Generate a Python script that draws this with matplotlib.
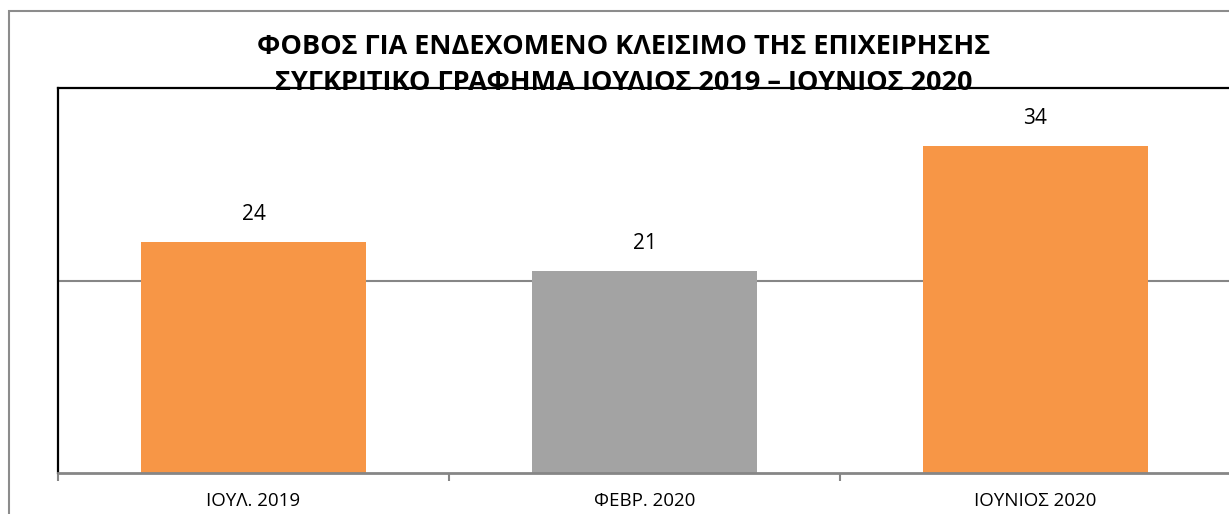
import matplotlib.pyplot as plt
from matplotlib.patches import Rectangle

plt.rcParams['font.family'] = ['Open Sans', 'DejaVu Sans']

categories = ['ΙΟΥΛ. 2019', 'ΦΕΒΡ. 2020', 'ΙΟΥΝΙΟΣ 2020']
values = [24, 21, 34]
colors = ['#F79646', '#A3A3A3', '#F79646']
title_lines = ['ΦΟΒΟΣ ΓΙΑ ΕΝΔΕΧΟΜΕΝΟ ΚΛΕΙΣΙΜΟ ΤΗΣ ΕΠΙΧΕΙΡΗΣΗΣ',
               'ΣΥΓΚΡΙΤΙΚΟ ΓΡΑΦΗΜΑ ΙΟΥΛΙΟΣ 2019 – ΙΟΥΝΙΟΣ 2020']

W, H = 1229, 514
fig = plt.figure(figsize=(W / 100, H / 100), dpi=100)

# outer chart border (runs off the right and bottom edges)
fig.patches.append(Rectangle((9 / W, -0.1), 1.2, 1 - 11 / H + 0.1,
                             transform=fig.transFigure, fill=False,
                             edgecolor='#8c8c8c', linewidth=1.5))

# title goes under the plot frame, like in the original
fig.text(624 / W, 1 - 47 / H, title_lines[0], ha='center', va='center',
         fontsize=19.5, fontweight='bold', zorder=-1)
fig.text(624 / W, 1 - 83 / H, title_lines[1], ha='center', va='center',
         fontsize=19.5, fontweight='bold', zorder=-1)

ax = fig.add_axes([58 / W, 1 - 473 / H, (1231 - 58) / W, (473 - 88) / H])
ax.patch.set_alpha(0)
x = range(len(categories))
bars = ax.bar(x, values, width=0.573, color=colors, zorder=2)
ax.set_xlim(-0.5, 2.5)
ax.set_ylim(0, 40)

ax.set_yticks([20])
ax.yaxis.grid(True, color='#868686', linewidth=1.5, zorder=1)
ax.tick_params(axis='y', length=0, labelleft=False)

ax.set_xticks([-0.5, 0.5, 1.5, 2.5])
ax.set_xticks(list(x), minor=True)
ax.set_xticklabels([])
ax.set_xticklabels(categories, minor=True)
ax.tick_params(axis='x', which='major', length=6, width=1.5, color='#868686')
ax.tick_params(axis='x', which='minor', length=0, labelsize=13.5, pad=14)

for s in ['left', 'top']:
    ax.spines[s].set_color('black')
    ax.spines[s].set_linewidth(1.6)
ax.spines['bottom'].set_color('#868686')
ax.spines['bottom'].set_linewidth(2)
ax.spines['right'].set_visible(False)

for b, v in zip(bars, values):
    ax.annotate(str(v), (b.get_x() + b.get_width() / 2, v),
                xytext=(0, 17), textcoords='offset pixels',
                ha='center', va='bottom', fontsize=15)

fig.savefig('out.png', dpi=100)
